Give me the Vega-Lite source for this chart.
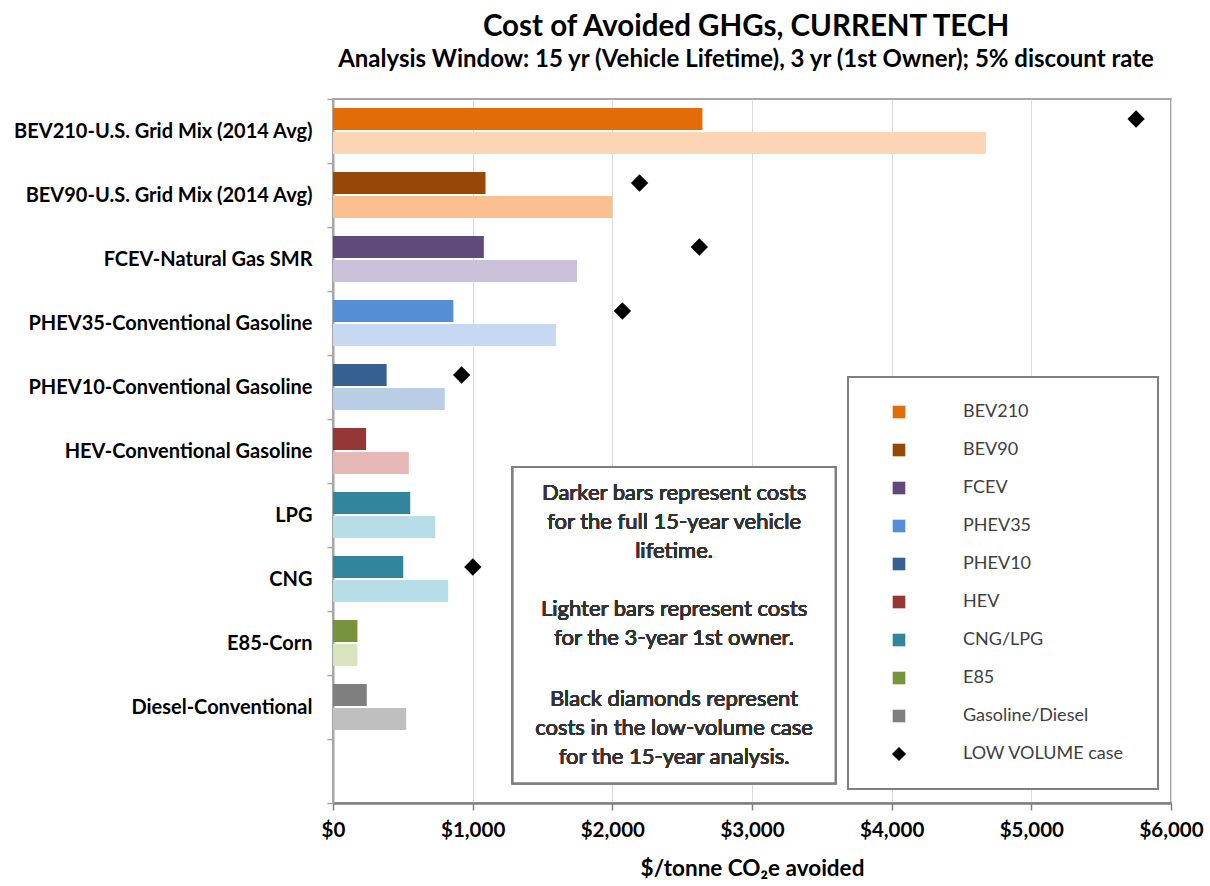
{
  "$schema": "https://vega.github.io/schema/vega-lite/v6.json",
  "width": 838,
  "height": 704,
  "autosize": {"type": "none"},
  "padding": {"left": 333, "top": 99, "right": 39, "bottom": 83},
  "background": "white",
  "title": {
    "text": "Cost of Avoided GHGs, CURRENT TECH",
    "subtitle": "Analysis Window: 15 yr (Vehicle Lifetime), 3 yr (1st Owner); 5% discount rate",
    "anchor": "middle",
    "font": "Lato",
    "fontSize": 29.5,
    "fontWeight": "bold",
    "color": "#000000",
    "subtitleFont": "Lato",
    "subtitleFontSize": 24,
    "subtitleFontWeight": "bold",
    "subtitleColor": "#000000",
    "subtitlePadding": 6,
    "offset": 16,
    "dx": -6
  },
  "config": {
    "view": {"stroke": "#a6a6a6", "strokeWidth": 2},
    "font": "Lato"
  },
  "data": {
    "values": [
      {"category": "BEV210-U.S. Grid Mix (2014 Avg)", "group": "BEV210", "lifetime": 2645, "owner": 4675, "lowvol": 5750},
      {"category": "BEV90-U.S. Grid Mix (2014 Avg)", "group": "BEV90", "lifetime": 1092, "owner": 2000, "lowvol": 2195},
      {"category": "FCEV-Natural Gas SMR", "group": "FCEV", "lifetime": 1080, "owner": 1747, "lowvol": 2623},
      {"category": "PHEV35-Conventional Gasoline", "group": "PHEV35", "lifetime": 862, "owner": 1597, "lowvol": 2072},
      {"category": "PHEV10-Conventional Gasoline", "group": "PHEV10", "lifetime": 384, "owner": 800, "lowvol": 921},
      {"category": "HEV-Conventional Gasoline", "group": "HEV", "lifetime": 237, "owner": 543, "lowvol": null},
      {"category": "LPG", "group": "CNG/LPG", "lifetime": 553, "owner": 732, "lowvol": null},
      {"category": "CNG", "group": "CNG/LPG", "lifetime": 503, "owner": 825, "lowvol": 1001},
      {"category": "E85-Corn", "group": "E85", "lifetime": 175, "owner": 175, "lowvol": null},
      {"category": "Diesel-Conventional", "group": "Gasoline/Diesel", "lifetime": 242, "owner": 524, "lowvol": null}
    ]
  },
  "encoding": {
    "y": {
      "field": "category",
      "type": "nominal",
      "scale": {
        "domain": ["BEV210-U.S. Grid Mix (2014 Avg)", "BEV90-U.S. Grid Mix (2014 Avg)", "FCEV-Natural Gas SMR", "PHEV35-Conventional Gasoline", "PHEV10-Conventional Gasoline", "HEV-Conventional Gasoline", "LPG", "CNG", "E85-Corn", "Diesel-Conventional", ""],
        "paddingInner": 0,
        "paddingOuter": 0
      },
      "axis": {
        "title": null,
        "tickBand": "extent",
        "tickSize": 6,
        "tickColor": "#a6a6a6",
        "tickWidth": 1.5,
        "domainColor": "#a6a6a6",
        "domainWidth": 2,
        "labelFont": "Lato",
        "labelFontSize": 20,
        "labelFontWeight": "bold",
        "labelColor": "#000000",
        "labelPadding": 15,
        "labelLimit": 400
      }
    }
  },
  "layer": [
    {
      "transform": [
        {"fold": ["lifetime", "owner"], "as": ["period", "value"]},
        {"filter": "datum.period === 'owner'"}
      ],
      "mark": {"type": "bar"},
      "encoding": {
        "yOffset": {"field": "period", "type": "nominal", "scale": {"domain": ["lifetime", "owner"], "paddingInner": 0.0833, "paddingOuter": 0.375}},
        "x": {
          "field": "value",
          "type": "quantitative",
          "title": "$/tonne CO₂e avoided",
          "scale": {"domain": [0, 6000], "nice": false},
          "axis": {
            "values": [0, 1000, 2000, 3000, 4000, 5000, 6000],
            "format": "$,.0f",
            "grid": true,
            "gridColor": "#d9d9d9",
            "gridWidth": 1,
            "domainColor": "#7f7f7f",
            "domainWidth": 2.5,
            "tickColor": "#7f7f7f",
            "tickSize": 7,
            "tickWidth": 1.5,
            "labelFont": "Lato",
            "labelFontSize": 20.5,
            "labelFontWeight": "bold",
            "labelColor": "#000000",
            "labelPadding": 10,
            "labelFlush": false,
            "titleFont": "Lato",
            "titleFontSize": 22.5,
            "titleFontWeight": "bold",
            "titleColor": "#000000",
            "titlePadding": 17
          }
        },
        "fill": {
          "field": "group",
          "type": "nominal",
          "scale": {
            "domain": ["BEV210", "BEV90", "FCEV", "PHEV35", "PHEV10", "HEV", "CNG/LPG", "E85", "Gasoline/Diesel"],
            "range": ["#fcd5b5", "#fac090", "#ccc1da", "#c6d9f1", "#b9cde5", "#e6b9b8", "#b7dee8", "#d7e4bd", "#bfbfbf"]
          },
          "legend": null
        }
      }
    },
    {
      "transform": [
        {"fold": ["lifetime", "owner"], "as": ["period", "value"]},
        {"filter": "datum.period === 'lifetime'"}
      ],
      "mark": {"type": "bar"},
      "encoding": {
        "yOffset": {"field": "period", "type": "nominal", "scale": {"domain": ["lifetime", "owner"], "paddingInner": 0.0833, "paddingOuter": 0.375}},
        "x": {"field": "value", "type": "quantitative", "title": "$/tonne CO₂e avoided"},
        "color": {
          "field": "group",
          "type": "nominal",
          "scale": {
            "domain": ["BEV210", "BEV90", "FCEV", "PHEV35", "PHEV10", "HEV", "CNG/LPG", "E85", "Gasoline/Diesel", "LOW VOLUME case"],
            "range": ["#e36c09", "#974806", "#604a7b", "#558ed5", "#376092", "#953735", "#31859c", "#77933c", "#7f7f7f", "#000000"]
          },
          "legend": {
            "title": ".",
            "titleOrient": "right",
            "titleFontSize": 8,
            "titleColor": "#ffffff",
            "titlePadding": 6,
            "orient": "none",
            "legendX": 515,
            "legendY": 278,
            "fillColor": "white",
            "strokeColor": "#7f7f7f",
            "padding": 26,
            "rowPadding": 20,
            "symbolOffset": 16,
            "symbolSize": 160,
            "symbolStrokeWidth": 0,
            "symbolOpacity": 1,
            "labelOffset": 55,
            "labelFont": "Lato",
            "labelFontSize": 18,
            "labelColor": "#404040",
            "labelLimit": 400,
            "encode": {
              "legend": {"update": {"strokeWidth": {"value": 2}}},
              "symbols": {"update": {
                "shape": {"signal": "datum.value === 'LOW VOLUME case' ? 'diamond' : 'square'"},
                "size": {"signal": "datum.value === 'LOW VOLUME case' ? 200 : 160"}
              }}
            }
          }
        }
      }
    },
    {
      "transform": [
        {"filter": "isValid(datum.lowvol)"},
        {"fold": ["lifetime"], "as": ["period", "v"]}
      ],
      "mark": {"type": "point", "shape": "diamond", "filled": true, "size": 300, "opacity": 1},
      "encoding": {
        "yOffset": {"field": "period", "type": "nominal", "scale": {"domain": ["lifetime", "owner"], "paddingInner": 0.0833, "paddingOuter": 0.375}},
        "x": {"field": "lowvol", "type": "quantitative", "title": "$/tonne CO₂e avoided"},
        "color": {"datum": "LOW VOLUME case", "type": "nominal"}
      }
    },
    {
      "mark": {"type": "rect", "fill": "white", "stroke": "#7f7f7f", "strokeWidth": 2},
      "encoding": {
        "x": {"datum": 1286, "type": "quantitative"},
        "x2": {"datum": 3598},
        "y": {"datum": "HEV-Conventional Gasoline", "type": "nominal", "bandPosition": 0.75},
        "y2": {"datum": "", "bandPosition": 0.69}
      }
    },
    {
      "mark": {
        "type": "text",
        "text": ["Darker bars represent costs", "for the full 15-year vehicle", "lifetime."],
        "font": "Lato",
        "fontSize": 22,
        "fontWeight": "normal",
        "color": "#333333",
        "lineHeight": 29,
        "align": "center",
        "baseline": "middle"
      },
      "encoding": {
        "x": {"datum": 2442, "type": "quantitative"},
        "y": {"datum": "LPG", "type": "nominal", "bandPosition": 0.156}
      }
    },
    {
      "mark": {
        "type": "text",
        "text": ["Lighter bars represent costs", "for the 3-year 1st owner."],
        "font": "Lato",
        "fontSize": 22,
        "fontWeight": "normal",
        "color": "#333333",
        "lineHeight": 29,
        "align": "center",
        "baseline": "middle"
      },
      "encoding": {
        "x": {"datum": 2442, "type": "quantitative"},
        "y": {"datum": "CNG", "type": "nominal", "bandPosition": 0.97}
      }
    },
    {
      "mark": {
        "type": "text",
        "text": ["Black diamonds represent", "costs in the low-volume case", "for the 15-year analysis."],
        "font": "Lato",
        "fontSize": 22,
        "fontWeight": "normal",
        "color": "#333333",
        "lineHeight": 29,
        "align": "center",
        "baseline": "middle"
      },
      "encoding": {
        "x": {"datum": 2442, "type": "quantitative"},
        "y": {"datum": "Diesel-Conventional", "type": "nominal", "bandPosition": 0.375}
      }
    }
  ]
}
